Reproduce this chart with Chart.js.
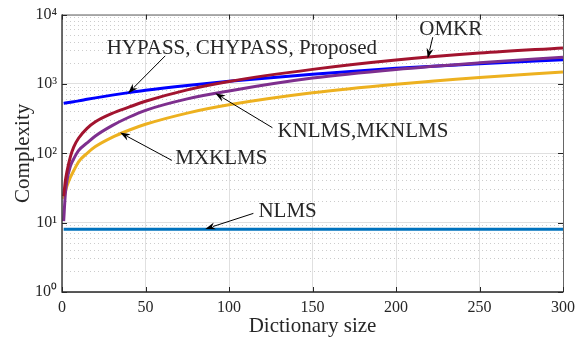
<!DOCTYPE html>
<html>
<head>
<meta charset="utf-8">
<script src="https://cdn.jsdelivr.net/npm/chart.js@4.4.1/dist/chart.umd.min.js"></script>
<style>
  html, body { margin: 0; padding: 0; background: #fff; }
  canvas { display: block; }
</style>
</head>
<body>
<canvas id="chart" width="585" height="343"></canvas>
<script>
// values (log y axis)
const dictSize = [1, 2, 3, 5, 7, 10, 15, 20, 30, 40, 50, 75, 100, 150, 200, 250, 300];
const omkr   = [24, 40, 55, 89, 123, 166, 229, 285, 376, 462, 562, 822, 1084, 1622, 2213, 2786, 3311];
const knlms  = [10.5, 26, 41, 65, 83, 110, 141, 178, 251, 331, 417, 610, 794, 1216, 1622, 2018, 2427];
const hypass = [525, 530, 535, 545, 555, 570, 600, 630, 690, 750, 810, 950, 1090, 1380, 1680, 1960, 2230];
const mxklms = [22, 28, 34, 45, 56, 76, 100, 125, 170, 215, 262, 380, 500, 745, 990, 1240, 1490];
const nlms   = [8, 8, 8, 8, 8, 8, 8, 8, 8, 8, 8, 8, 8, 8, 8, 8, 8];

const xTicks = [0, 50, 100, 150, 200, 250, 300];
const yTicks = [1, 10, 100, 1000, 10000];
const yMinorTicks = [];
[1, 10, 100, 1000].forEach(d => { for (let k = 2; k <= 9; k++) yMinorTicks.push(k * d); });
const sup = {0: '\u2070', 1: '\u00b9', 2: '\u00b2', 3: '\u00b3', 4: '\u2074'};

const toPts = arr => arr.map((v, i) => ({x: dictSize[i], y: v}));

// annotation text + arrows, in data coordinates
const notes = [
  {text: 'HYPASS, CHYPASS, Proposed', at: [107.7, 2710], align: 'center', from: [61.8, 2540], to: [39.6, 735]},
  {text: 'OMKR', at: [232.8, 5035], align: 'center', from: [222, 4720], to: [219, 2350]},
  {text: 'KNLMS,MKNLMS', at: [129, 174], align: 'left', from: [126, 234], to: [91.8, 733]},
  {text: 'MXKLMS', at: [67.8, 70], align: 'left', from: [65.8, 79], to: [34.8, 199]},
  {text: 'NLMS', at: [117.6, 12], align: 'left', from: [114.6, 13.6], to: [85.8, 8.1]}
];

const notePlugin = {
  id: 'notes',
  afterDatasetsDraw(chart) {
    const {ctx, scales: {x, y}} = chart;
    ctx.save();
    ctx.font = '21px "Liberation Serif"';
    ctx.strokeStyle = '#000';
    ctx.lineWidth = 1;
    notes.forEach(n => {
      ctx.fillStyle = '#262626';
      ctx.textAlign = n.align;
      ctx.textBaseline = 'alphabetic';
      ctx.fillText(n.text, x.getPixelForValue(n.at[0]), y.getPixelForValue(n.at[1]));
      const x1 = x.getPixelForValue(n.from[0]), y1 = y.getPixelForValue(n.from[1]);
      const x2 = x.getPixelForValue(n.to[0]), y2 = y.getPixelForValue(n.to[1]);
      const a = Math.atan2(y2 - y1, x2 - x1);
      const hl = 10, hw = 3.5;
      ctx.beginPath();
      ctx.moveTo(x1, y1);
      ctx.lineTo(x2 - Math.cos(a) * hl * 0.8, y2 - Math.sin(a) * hl * 0.8);
      ctx.stroke();
      ctx.beginPath();
      ctx.moveTo(x2, y2);
      ctx.lineTo(x2 - Math.cos(a) * hl - Math.sin(a) * hw, y2 - Math.sin(a) * hl + Math.cos(a) * hw);
      ctx.lineTo(x2 - Math.cos(a) * hl * 0.7, y2 - Math.sin(a) * hl * 0.7);
      ctx.lineTo(x2 - Math.cos(a) * hl + Math.sin(a) * hw, y2 - Math.sin(a) * hl - Math.cos(a) * hw);
      ctx.closePath();
      ctx.fillStyle = '#000';
      ctx.fill();
    });
    ctx.restore();
  }
};

// box round the plot with inward ticks
const boxPlugin = {
  id: 'box',
  afterDraw(chart) {
    const {ctx, chartArea: ca, scales: {x, y}} = chart;
    ctx.save();
    ctx.lineWidth = 1;
    ctx.strokeStyle = '#666';
    ctx.beginPath();
    ctx.moveTo(ca.left, ca.top + 0.5); ctx.lineTo(ca.right + 0.5, ca.top + 0.5);
    ctx.lineTo(ca.right + 0.5, ca.bottom);
    ctx.stroke();
    ctx.strokeStyle = '#262626';
    ctx.lineWidth = 1.3;
    ctx.beginPath();
    ctx.moveTo(ca.left, ca.top); ctx.lineTo(ca.left, ca.bottom); ctx.lineTo(ca.right + 0.5, ca.bottom);
    ctx.stroke();
    ctx.lineWidth = 1;
    ctx.beginPath();
    xTicks.forEach(v => {
      const px = Math.round(x.getPixelForValue(v)) + 0.5;
      ctx.moveTo(px, ca.bottom); ctx.lineTo(px, ca.bottom - 5);
      ctx.moveTo(px, ca.top); ctx.lineTo(px, ca.top + 5);
    });
    yTicks.forEach(v => {
      const py = Math.round(y.getPixelForValue(v)) + 0.5;
      ctx.moveTo(ca.left, py); ctx.lineTo(ca.left + 5, py);
      ctx.moveTo(ca.right, py); ctx.lineTo(ca.right - 5, py);
    });
    ctx.stroke();
    ctx.restore();
  }
};

const line = (label, data, color) => ({
  label, data: toPts(data), borderColor: color, backgroundColor: color,
  borderWidth: 3, pointRadius: 0, cubicInterpolationMode: 'monotone', fill: false
});

new Chart(document.getElementById('chart'), {
  type: 'line',
  data: {
    datasets: [
      line('OMKR', omkr, '#A2142F'),
      line('KNLMS,MKNLMS', knlms, '#7E2F8E'),
      line('HYPASS, CHYPASS, Proposed', hypass, '#0000FF'),
      line('MXKLMS', mxklms, '#EDB120'),
      line('NLMS', nlms, '#0072BD')
    ]
  },
  options: {
    responsive: false,
    animation: false,
    devicePixelRatio: 1,
    layout: { padding: { left: 0, right: 22, top: 10, bottom: 0 } },
    plugins: { legend: { display: false }, tooltip: { enabled: false } },
    scales: {
      x: {
        type: 'linear', min: 0, max: 300,
        afterBuildTicks: s => { s.ticks = xTicks.map(v => ({value: v})); },
        afterFit: s => { s.height = 51; },
        grid: { color: '#e0e0e0', drawTicks: false },
        border: { display: false },
        ticks: { padding: 6, color: '#262626', font: { family: 'Liberation Serif', size: 16 } },
        title: { display: true, text: 'Dictionary size', color: '#262626',
                 font: { family: 'Liberation Serif', size: 21 }, padding: { top: 0, bottom: 4 } }
      },
      yMinor: {
        type: 'logarithmic', position: 'left', min: 1, max: 10000,
        afterBuildTicks: s => { s.ticks = yMinorTicks.map(v => ({value: v})); },
        afterFit: s => { s.width = 0; },
        grid: { color: '#cccccc', drawTicks: false },
        border: { display: false, dash: [1, 3] },
        ticks: { display: false }
      },
      y: {
        type: 'logarithmic', position: 'left', min: 1, max: 10000,
        afterBuildTicks: s => { s.ticks = yTicks.map(v => ({value: v})); },
        afterFit: s => { s.width = 62; },
        grid: { color: '#e0e0e0', drawTicks: false },
        border: { display: false },
        ticks: {
          padding: 5, color: '#262626', font: { family: 'Liberation Serif', size: 16 },
          callback: v => '10' + sup[Math.round(Math.log10(v))]
        },
        title: { display: true, text: 'Complexity', color: '#262626',
                 font: { family: 'Liberation Serif', size: 21 }, padding: { top: 11, bottom: 0 } }
      }
    }
  },
  plugins: [notePlugin, boxPlugin]
});
</script>
</body>
</html>
